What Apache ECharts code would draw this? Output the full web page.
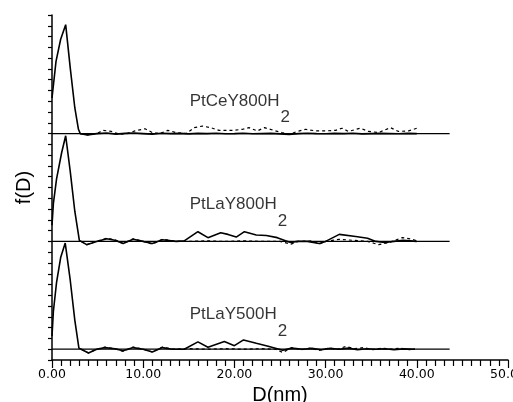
<!DOCTYPE html>
<html>
<head>
<meta charset="utf-8">
<script src="https://cdn.jsdelivr.net/npm/echarts@6/dist/echarts.min.js"></script>
<style>html,body{margin:0;padding:0;background:#fff}#c{width:513px;height:402px}</style>
</head>
<body>
<div id="c"></div>
<script>
// Panel names and vertical offsets (in f(D) axis units)
const panelNames = ['PtCeY800H', 'PtLaY800H', 'PtLaY500H'];
const panelOffsets = [21, 11, 1];
const baselineEnd = 43.6;
const xTicks = [0, 10, 20, 30, 40, 50];

// Solid curves [D(nm), f]
const solidCe800 = [[0,3.3],[0.44,6.7],[0.95,8.75],[1.5,10.1],[2.0,6.1],[2.5,2.4],[2.9,0.4],[3.1,0],[3.9,-0.12],[4.9,0],[6,0.05],[7,-0.05],[8,0.02],[9,0.05],[10,0],[11,-0.05],[12,0.03],[13,0],[14,0.02],[15,-0.03],[16,0.02],[17,0],[18,0.03],[19,-0.02],[20,0],[21,0.03],[22,-0.02],[23,0],[24,0.02],[25,-0.03],[26,-0.08],[27,0],[28,0.03],[29,0],[30,-0.02],[31,0.02],[32,0],[33,0.03],[34,-0.03],[35,0],[36,0.02],[37,0],[38,-0.02],[39,0.02],[40,0]];
const solidLa800 = [[0,1.5],[0.15,3.5],[0.5,5.8],[1.05,8.2],[1.5,9.8],[2.0,6.5],[2.5,2.8],[3.0,0.1],[3.2,0],[3.8,-0.3],[4.9,0],[6.0,0.25],[6.9,0.1],[7.8,-0.2],[8.9,0.2],[10,0],[11,-0.2],[12.1,0.15],[13.6,0],[14.5,0.05],[16.0,0.9],[17.1,0.35],[18.5,0.8],[19.3,0.65],[20.2,0.4],[21.1,0.9],[22.4,0.6],[23.5,0.55],[24.7,0.35],[25.6,0.05],[26.2,-0.1],[26.9,0],[28,0],[29.3,-0.2],[30,0],[31.5,0.65],[33.3,0.45],[34.6,0.3],[35.5,0],[36.5,-0.1],[37.5,0],[38.5,0.1],[40,0]];
const solidLa500 = [[0,1.2],[0.15,3.5],[0.5,6.2],[0.95,8.5],[1.45,9.85],[2.0,6.4],[2.5,2.7],[2.95,0.1],[3.2,0],[4.0,-0.35],[4.9,0],[5.8,0.15],[6.9,0.05],[7.8,-0.15],[8.9,0.15],[10,0],[11,-0.25],[12.1,0.15],[13.2,0],[14.5,0],[16.0,0.68],[17.1,0.18],[18.9,0.72],[20.0,0.33],[21.0,0.86],[22.4,0.55],[23.7,0.28],[24.7,0.05],[25.3,-0.1],[26.3,0.1],[27.5,0],[28.5,0.08],[29.5,-0.05],[30.5,0.08],[31.5,0],[32.5,0.1],[33.5,-0.05],[34.5,0.05],[35.5,0],[36.5,0.05],[37.5,-0.05],[38.5,0.03],[39.8,0]];

// Dashed curves [D(nm), f]
const dashCe800 = [[3.1,0],[3.9,-0.12],[4.9,0],[5.6,0.3],[6.5,0.2],[7.4,-0.06],[8.2,0],[9.1,0.25],[10.2,0.45],[11.0,0.1],[11.8,0],[12.7,0.3],[13.6,0.1],[14.7,0],[15.6,0.55],[16.5,0.7],[17.4,0.55],[18.3,0.3],[19.8,0.3],[20.9,0.4],[21.6,0.55],[22.5,0.25],[23.3,0.55],[24.3,0.3],[25.2,0.1],[26.0,-0.06],[26.9,0.2],[27.8,0.4],[28.9,0.25],[30.0,0.25],[31.1,0.3],[31.8,0.5],[32.5,0.2],[33.8,0.5],[34.7,0.2],[35.8,0.1],[37.1,0.55],[38.0,0.2],[39.1,0.25],[40.2,0.55]];
const dashLa800 = [[3.2,0],[3.8,-0.3],[4.9,0],[6.0,0.3],[6.9,0.15],[7.8,-0.2],[8.9,0.25],[10,0],[11,-0.25],[12.1,0.2],[13.6,0],[15,0],[17,0.05],[19,0],[21,0.05],[23,0],[25,0],[26.2,-0.25],[27,0],[28.5,0.05],[29.3,-0.25],[30,0],[31.5,0.2],[33,0.1],[34.6,0],[35.8,-0.3],[37,-0.1],[38.4,0.35],[39.5,0.2],[40.2,0]];
const dashLa500 = [[3.2,0],[4.0,-0.35],[4.9,0],[5.8,0.2],[6.9,0.05],[7.8,-0.2],[8.9,0.2],[10,0],[11,-0.25],[12.1,0.2],[13.2,0],[15,0.05],[17,0],[19,0.05],[21,0],[23,0.05],[24.5,0],[25.3,-0.3],[26.3,0.15],[27.3,-0.05],[28.3,0.1],[29.3,-0.1],[30.3,0.1],[31.3,0],[32.2,0.25],[33.2,0.05],[34.2,0.15],[35.2,-0.05],[36.2,0.1],[37.2,0],[38.2,0.1],[39.2,-0.05],[39.8,0]];

// Label anchors [D(nm), f] relative to each panel baseline
const labelAnchors = [[15.1, 1.5], [15.1, 1.9], [15.1, 1.69]];

const solids = [solidCe800, solidLa800, solidLa500];
const dashes = [dashCe800, dashLa800, dashLa500];

const FONT = 'Liberation Sans';
const series = [];
for (let i = 0; i < 3; i++) {
  const off = panelOffsets[i];
  series.push({
    type: 'line', data: [[0, off], [baselineEnd, off]], symbol: 'none', silent: true,
    lineStyle: { color: '#000', width: 1.3 }, z: 1
  });
  series.push({
    type: 'line', data: solids[i].map(p => [p[0], p[1] + off]), symbol: 'none',
    lineStyle: { color: '#000', width: 1.6 }, z: 3
  });
  series.push({
    type: 'line', data: dashes[i].map(p => [p[0], p[1] + off]), symbol: 'none',
    lineStyle: { color: '#000', width: 1.2, type: [3, 3] }, z: 2
  });
  series.push({
    type: 'scatter', symbolSize: 0, silent: true,
    data: [[labelAnchors[i][0], labelAnchors[i][1] + off]],
    label: {
      show: true, position: 'right', distance: 0,
      formatter: '{m|' + panelNames[i] + '}{s|2}',
      rich: {
        m: { fontFamily: FONT, fontSize: 17, color: '#000', lineHeight: 18, verticalAlign: 'top' },
        s: { fontFamily: FONT, fontSize: 17, color: '#000', lineHeight: 50, padding: [0, 0, 0, 1] }
      }
    }
  });
}

const chart = echarts.init(document.getElementById('c'), null, { renderer: 'canvas' });
chart.setOption({
  animation: false,
  backgroundColor: '#fff',
  grid: { left: 52, right: 5, top: 15, bottom: 42, containLabel: false, outerBoundsMode: 'none' },
  xAxis: {
    type: 'value', min: 0, max: 50, interval: 10,
    name: 'D(nm)', nameLocation: 'middle', nameGap: 19,
    nameTextStyle: { fontFamily: FONT, fontSize: 20, color: '#000' },
    axisLine: { show: true, onZero: false, lineStyle: { color: '#000', width: 1.5 } },
    axisTick: { show: true, length: 8, lineStyle: { color: '#000', width: 1.2 } },
    minorTick: { show: true, splitNumber: 10, length: 6, lineStyle: { color: '#000', width: 1.2 } },
    axisLabel: { fontFamily: 'DejaVu Sans', fontSize: 12.5, color: '#000', margin: 8, formatter: v => v.toFixed(2) },
    splitLine: { show: false }
  },
  yAxis: {
    type: 'value', min: 0, max: 32, interval: 1,
    name: 'f(D)', nameLocation: 'middle', nameGap: 18,
    nameTextStyle: { fontFamily: FONT, fontSize: 20, color: '#000' },
    axisLine: { show: true, lineStyle: { color: '#000', width: 1.5 } },
    axisTick: { show: true, length: 4, lineStyle: { color: '#000', width: 1.2 } },
    axisLabel: { show: false },
    splitLine: { show: false }
  },
  series: series
});
</script>
</body>
</html>
